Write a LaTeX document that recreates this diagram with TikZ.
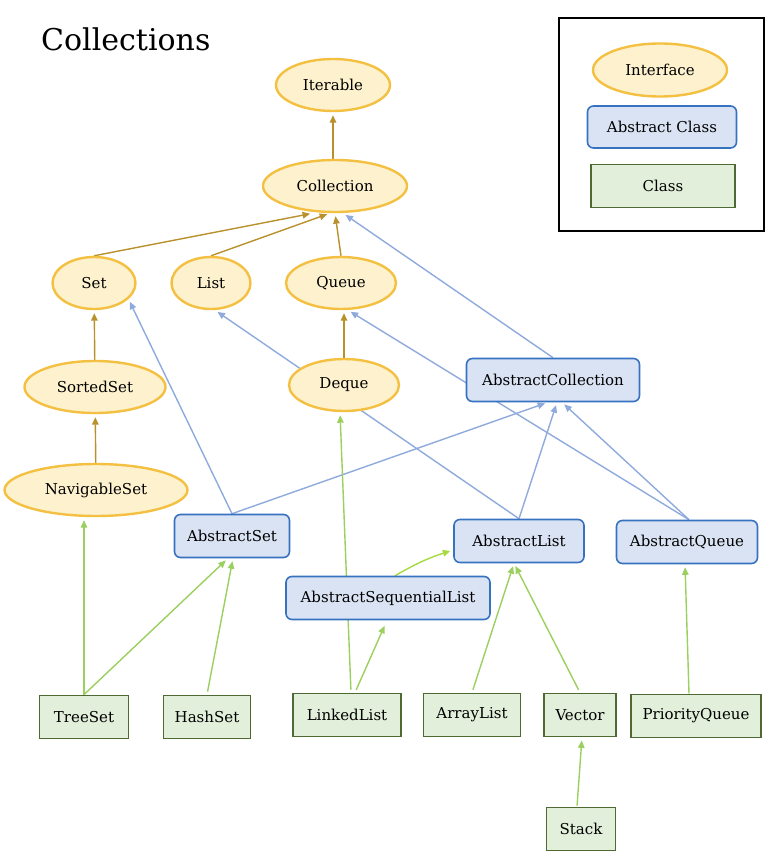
\documentclass[tikz,border=0pt]{standalone}
\usepackage{fontspec}
\setmainfont{DejaVu Serif}
\usetikzlibrary{shapes.geometric,arrows.meta,backgrounds}

\definecolor{ifacefill}{HTML}{FDF1CE}
\definecolor{ifaceline}{HTML}{F4C042}
\definecolor{absfill}{HTML}{DAE3F3}
\definecolor{absline}{HTML}{3672C0}
\definecolor{clsfill}{HTML}{E2EFDA}
\definecolor{clsline}{HTML}{4E6934}
\definecolor{supline}{HTML}{B8912C}
\definecolor{impline}{HTML}{8FAADC}
\definecolor{extline}{HTML}{9BCF5F}
\definecolor{seqline}{HTML}{A6DA3E}

\newcommand{\boxfont}{\fontsize{15}{18}\selectfont}

\begin{document}
\begin{tikzpicture}[x=1pt, y=-1pt,
                    iface/.style={
                    ellipse,
                    draw=ifaceline,
                    fill=ifacefill,
                    line width=2.4pt,
                    minimum height=52,
                    inner sep=0pt,
                    font=\boxfont,
                    },
                    absclass/.style={
                    rectangle,
                    rounded corners=6pt,
                    draw=absline,
                    fill=absfill,
                    line width=1.6pt,
                    minimum height=43,
                    inner sep=0pt,
                    font=\boxfont,
                    },
                    cls/.style={
                    rectangle,
                    draw=clsline,
                    fill=clsfill,
                    line width=1.8pt,
                    minimum height=43,
                    inner sep=0pt,
                    font=\boxfont,
                    },
                    tip/.style={-{Triangle[length=7.5pt,width=6.5pt]}, line width=1.4pt, shorten >=3pt},
                    supr/.style={tip, draw=supline},
                    impl/.style={tip, draw=impline},
                    ext/.style={tip, draw=extline, shorten <=3pt},
                    ]

\useasboundingbox (0,0) rectangle (775,864);

\node[anchor=base west, inner sep=0pt, font=\fontsize{30}{34}\selectfont] (title) at (41,51) {Collections};

% interfaces
\draw
(333,85) node[iface, minimum width=114] (iter) {Iterable}
(335,186) node[iface, minimum width=144] (coll) {Collection}
(94,283) node[iface, minimum width=83] (set) {Set}
(211,283) node[iface, minimum width=79] (list) {List}
(341,283) node[iface, minimum width=110] (queue) {Queue}
(95,387) node[iface, minimum width=141] (sorted) {SortedSet}
(344,385) node[iface, minimum width=110] (deque) {Deque}
(96,490) node[iface, minimum width=183] (navig) {NavigableSet}
;

% abstract classes
\draw
(553,380) node[absclass, minimum width=173] (absColl) {AbstractCollection}
(232,536) node[absclass, minimum width=115] (absSet) {AbstractSet}
(519,541) node[absclass, minimum width=130] (absList) {AbstractList}
(687,542) node[absclass, minimum width=141] (absQueue) {AbstractQueue}
(388,598) node[absclass, minimum width=204] (absSeq) {AbstractSequentialList}
;

% classes
\draw
(84,717) node[cls, minimum width=89] (treeSet) {TreeSet}
(207,717) node[cls, minimum width=87] (hashSet) {HashSet}
(347,715) node[cls, minimum width=108] (linked) {LinkedList}
(472,715) node[cls, minimum width=97] (arrayL) {ArrayList}
(580,715) node[cls, minimum width=72] (vector) {Vector}
(696,716) node[cls, minimum width=130] (prioQ) {PriorityQueue}
(581,829) node[cls, minimum width=69] (stack) {Stack}
;

% legend
\draw[line width=1.6pt] (559,18) rectangle (764,231);
\draw
(660,70) node[iface, minimum width=134, minimum height=53] (lgIface) {Interface}
(662,127) node[absclass, minimum width=149, minimum height=42] (lgAbs) {Abstract Class}
(663,186) node[cls, minimum width=144] (lgCls) {Class}
;

\begin{scope}[on background layer]
% interface to interface
\draw[supr] (coll.north -| iter) -- (iter);
\draw[supr] (set.north) -- ([xshift=-22pt]coll.south);
\draw[supr] (list.north) -- ([xshift=-5pt]coll.south);
\draw[supr] (queue.north) -- (coll.south);
\draw[supr] (sorted) -- (set);
\draw[supr] (deque) -- (deque |- queue.south);
\draw[supr] (navig) -- (sorted);

% abstract classes
\draw[impl] (absColl.north) -- ([xshift=8pt]coll.south);
\draw[impl] (absSet.north) -- (set.-25);
\draw[impl] (absSet.north) -- ([xshift=-5pt]absColl.south);
\draw[impl] (absList.north) -- ([xshift=4pt]list.south);
\draw[impl] (absList.north) -- ([xshift=4pt]absColl.south);
\draw[impl] ([xshift=2pt]absQueue.north) -- ([xshift=7pt]queue.south);
\draw[impl] ([xshift=2pt]absQueue.north) -- ([xshift=9pt]absColl.south);

% classes
\draw[ext, shorten <=0pt] (treeSet.north) -- (treeSet.north |- navig.south);
\draw[ext, shorten <=0pt] (treeSet.north) -- ([xshift=-4pt]absSet.south);
\draw[ext] (hashSet.north) -- ([xshift=1pt]absSet.south);
\draw[ext] ([xshift=4pt]linked.north) -- ([xshift=-4pt]deque.south);
\draw[ext, shorten >=6pt] ([xshift=8pt]linked.north) -- ([xshift=-1pt]absSeq.south);
\draw[ext, draw=seqline, shorten <=0pt] ([xshift=7pt]absSeq.north) to[bend left=6] ([yshift=-9pt]absList.west);
\draw[ext] (arrayL.north) -- ([xshift=-5pt]absList.south);
\draw[ext] (vector.north) -- ([xshift=-5pt]absList.south);
\draw[ext, shorten <=0pt] ([xshift=-7pt]prioQ.north) -- ([xshift=-2pt]absQueue.south);
\draw[ext, shorten <=1pt] ([xshift=-4pt]stack.north) -- ([xshift=2pt]vector.south);
\end{scope}

\end{tikzpicture}
\end{document}
